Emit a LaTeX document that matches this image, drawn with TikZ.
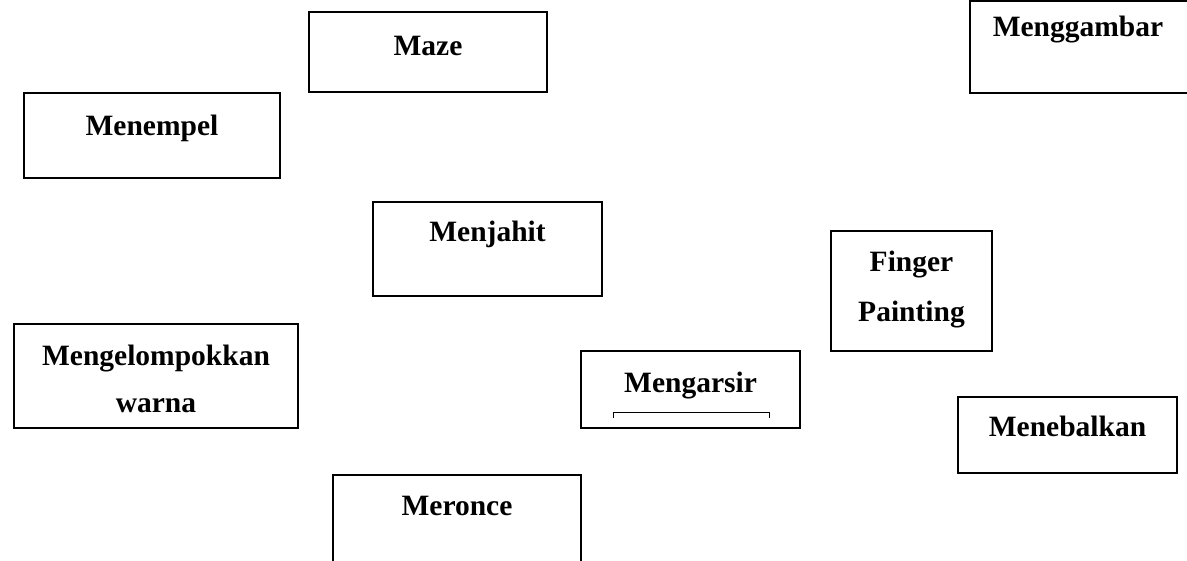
\documentclass[tikz,border=0pt]{standalone}
\usepackage{fontspec}
\setmainfont{Liberation Serif}
\begin{document}
\begin{tikzpicture}[x=1pt, y=-1pt,
    box/.style={draw, line width=1.9pt, inner sep=0pt},
    lbl/.style={anchor=base, inner sep=0pt, font={\bfseries\fontsize{29.5}{35}\selectfont}}]

    \useasboundingbox (0,0) rectangle (1187,561);

    % Boxes
    \node[box, minimum width=238pt, minimum height=80pt] (maze) at (428,52) {};
    \node[box, minimum width=222pt, minimum height=92pt] (gambar) at (1081,47) {};
    \node[box, minimum width=256pt, minimum height=85pt] (tempel) at (152,135.5) {};
    \node[box, minimum width=229pt, minimum height=94pt] (jahit) at (487.5,249) {};
    \node[box, minimum width=161pt, minimum height=120pt] (finger) at (911.5,291) {};
    \node[box, minimum width=284pt, minimum height=104pt] (warna) at (156,376) {};
    \node[box, minimum width=219pt, minimum height=77pt] (arsir) at (690.5,389.5) {};
    \node[box, minimum width=219pt, minimum height=76pt] (tebal) at (1067.5,435) {};
    \node[box, minimum width=248pt, minimum height=95pt] (ronce) at (457,522.5) {};

    % Labels
    \node[lbl] (mazetext) at ([yshift=-44pt]maze.north) {Maze};
    \node[lbl] (gambartext) at ([xshift=-3pt, yshift=-36pt]gambar.north) {Menggambar};
    \node[lbl] (tempeltext) at ([yshift=-43pt]tempel.north) {Menempel};
    \node[lbl] (jahittext) at ([yshift=-40pt]jahit.north) {Menjahit};
    \node[lbl] (fingertext) at ([yshift=-41pt]finger.north) {Finger};
    \node[lbl] (paintingtext) at ([yshift=-91pt]finger.north) {Painting};
    \node[lbl] (warnatop) at ([yshift=-42pt]warna.north) {Mengelompokkan};
    \node[lbl] (warnabot) at ([yshift=-89pt]warna.north) {warna};
    \node[lbl] (arsirtext) at ([yshift=-42pt]arsir.north) {Mengarsir};
    \node[lbl] (tebaltext) at ([yshift=-40pt]tebal.north) {Menebalkan};
    \node[lbl] (roncetext) at ([yshift=-41pt]ronce.north) {Meronce};

    % Bracket under Mengarsir
    \draw[line width=1pt] (613,418) -- (613,413) -- (769,413) -- (769,418);

\end{tikzpicture}
\end{document}
